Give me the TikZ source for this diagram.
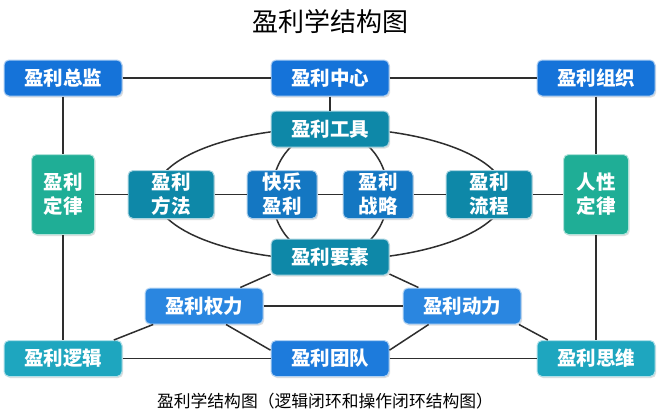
\documentclass[tikz,border=0pt]{standalone}
\usepackage{fontspec}
\setmainfont{Noto Sans CJK SC}
\usetikzlibrary{backgrounds,calc,shadows}
\definecolor{cTop}{HTML}{1573D9}
\definecolor{cTeal}{HTML}{0E88A8}
\definecolor{cGreen}{HTML}{1FAE96}
\definecolor{cMid}{HTML}{1477C2}
\definecolor{cBlue}{HTML}{2A86E0}
\definecolor{cCyan}{HTML}{1EA6BF}
\definecolor{cLine}{HTML}{2E2E2E}
\tikzset{
  box/.style={rectangle, rounded corners=5pt, fill=#1, draw=#1!35!white, line width=1pt,
    text=white, inner sep=0pt, align=center,
    font=\fontsize{19.5}{24}\selectfont\bfseries,
    drop shadow={shadow xshift=1.2pt, shadow yshift=-1.5pt, fill=black!25}},
  wbox/.style={box=#1, minimum width=118pt, minimum height=36pt},
  conn/.style={draw=cLine, line width=1.5pt},
  arc/.style={draw=cLine, line width=1.5pt}
}
\begin{document}
\begin{tikzpicture}[x=1pt,y=-1pt]
\useasboundingbox (0,0) rectangle (660,413);
\node[font=\fontsize{26}{30}\selectfont] (title) at (330,22) {盈利学结构图};
\node[wbox=cTop] (zj) at (63,78) {盈利总监};
\node[wbox=cTop] (zx) at (330,78) {盈利中心};
\node[wbox=cTop] (zz) at (596,78) {盈利组织};
\node[wbox=cTeal] (gj) at (330,129) {盈利工具};
\node[box=cGreen, minimum width=63pt, minimum height=80pt] (dl) at (63,194.5) {盈利\\定律};
\node[box=cGreen, minimum width=65pt, minimum height=80pt] (rx) at (596,194.5) {人性\\定律};
\node[box=cTeal, minimum width=86pt, minimum height=48pt] (ff) at (171,194.5) {盈利\\方法};
\node[box=cMid, minimum width=70pt, minimum height=48pt] (kl) at (282,194.5) {快乐\\盈利};
\node[box=cMid, minimum width=70pt, minimum height=48pt] (zl) at (378,194.5) {盈利\\战略};
\node[box=cTeal, minimum width=86pt, minimum height=48pt] (lc) at (489,194.5) {盈利\\流程};
\node[wbox=cTeal] (ys) at (330,257) {盈利要素};
\node[wbox=cBlue] (ql) at (204,306) {盈利权力};
\node[wbox=cBlue] (dyl) at (462,306) {盈利动力};
\node[wbox=cCyan] (lj) at (63,358.5) {盈利逻辑};
\node[wbox=cTop!60!cBlue] (td) at (330,358.5) {盈利团队};
\node[wbox=cCyan] (sw) at (596,358.5) {盈利思维};
\node[font=\fontsize{16.8}{20}\selectfont] (cap) at (325,401) {盈利学结构图（逻辑闭环和操作闭环结构图）};
\coordinate (ec) at (330,194);
\begin{pgfonlayer}{background}
\fill[white] (0,0) rectangle (660,413);
\draw[arc] (ec) ellipse [x radius=175, y radius=66];
\draw[arc] (ec) ellipse [x radius=58, y radius=64];
\end{pgfonlayer}
\draw[conn] (zj) -- (zx);
\draw[conn] (zx) -- (zz);
\draw[conn] (zx) -- (gj);
\draw[conn] (zj) -- (dl);
\draw[conn] (zz) -- (rx);
\draw[conn] (dl) -- (ff);
\draw[conn] (ff) -- (kl);
\draw[conn] (kl) -- (zl);
\draw[conn] (zl) -- (lc);
\draw[conn] (lc) -- (rx);
\draw[conn] (dl) -- (lj);
\draw[conn] (rx) -- (sw);
\draw[conn] (lj) -- (td);
\draw[conn] (td) -- (sw);
\draw[conn] (ql) -- (dyl);
\draw[conn] (ys.196) -- (ql.27);
\draw[conn] (ys.-16) -- (dyl.157);
\draw[conn] (lj.20) -- (ql.200);
\draw[conn] (ql.-40) -- (td.172);
\draw[conn] (td.8) -- (dyl.209);
\draw[conn] (dyl.-18) -- (sw.159);
\end{tikzpicture}
\end{document}
